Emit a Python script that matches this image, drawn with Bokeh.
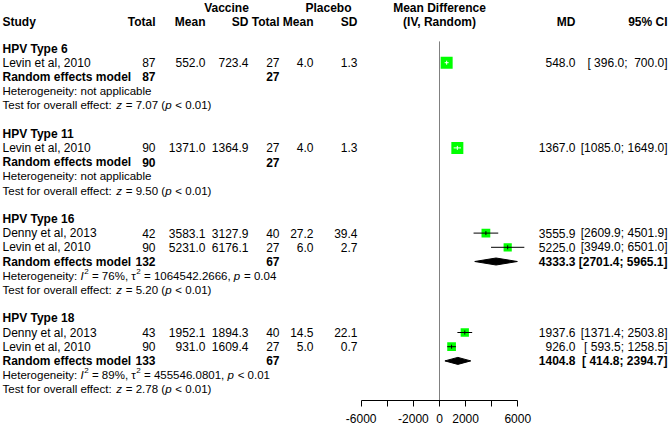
import math
from bokeh.plotting import figure
from bokeh.models import Range1d, FixedTicker, ColumnDataSource
from bokeh.core.properties import value
from bokeh.embed import file_html
from bokeh.resources import INLINE

# ---------------- data ----------------
groups = ["HPV Type 6", "HPV Type 11", "HPV Type 16", "HPV Type 18"]
study_group = [0, 1, 2, 2, 3, 3]
study_names = ["Levin et al, 2010", "Levin et al, 2010", "Denny et al, 2013",
               "Levin et al, 2010", "Denny et al, 2013", "Levin et al, 2010"]
vac_total = [87, 90, 42, 90, 43, 90]
vac_mean = [552.0, 1371.0, 3583.1, 5231.0, 1952.1, 931.0]
vac_sd = [723.4, 1364.9, 3127.9, 6176.1, 1894.3, 1609.4]
pla_total = [27, 27, 40, 27, 40, 27]
pla_mean = [4.0, 4.0, 27.2, 6.0, 14.5, 5.0]
pla_sd = [1.3, 1.3, 39.4, 2.7, 22.1, 0.7]
md = [548.0, 1367.0, 3555.9, 5225.0, 1937.6, 926.0]
md_lower = [396.0, 1085.0, 2609.9, 3949.0, 1371.4, 593.5]
md_upper = [700.0, 1649.0, 4501.9, 6501.0, 2503.8, 1258.5]
weight = [100.0, 100.0, 53.4, 46.6, 47.3, 52.7]

re_vac_total = [87, 90, 132, 133]
re_pla_total = [27, 27, 67, 67]
re_md = [None, None, 4333.3, 1404.8]
re_lower = [None, None, 2701.4, 414.8]
re_upper = [None, None, 5965.1, 2394.7]
het_i2 = [None, None, "76%", "89%"]
het_tau2 = [None, None, "1064542.2666", "455546.0801"]
het_p = [None, None, "= 0.04", "< 0.01"]
test_z = ["7.07", "9.50", "5.20", "2.78"]
test_p = ["< 0.01", "< 0.01", "< 0.01", "< 0.01"]
ref_value = 0
tick_values = [-6000, -4000, -2000, 0, 2000, 4000, 6000]
tick_labels = ["-6000", "", "-2000", "0", "2000", "", "6000"]

# ---------------- layout ----------------
FONT = "Liberation Sans"
FS = 12.0
FS_BOLD = 12.0
FS_SMALL = 11.5
W = 669
FRAME_H = 400
O_LEFT, O_RIGHT = 0.0, 669.0
SX = W / (O_RIGHT - O_LEFT)
AX_L, AX_R = 360.7, 517.3              # where -6000 / 6000 sit
ROW0, ROWH, AXIS_Y = 48.0, 14.2, 400.0
X_TEXT = 2.0
C_VT, C_VM, C_VS, C_PT, C_PM, C_PS, C_MD, C_CI = 155, 205, 248, 279, 313, 357, 575, 667
C_MID = (AX_L + AX_R) / 2

u = (tick_values[-1] - tick_values[0]) / (AX_R - AX_L)
x_start = tick_values[0] - (AX_L - O_LEFT) * u
x_end = tick_values[-1] + (O_RIGHT - AX_R) * u
y_bottom = (AXIS_Y - ROW0) / ROWH
y_top = (0 - ROW0) / ROWH
row_px = FRAME_H / (y_bottom - y_top)
unit_px = W / (x_end - x_start)

p = figure(frame_width=W, frame_height=FRAME_H,
           x_range=Range1d(x_start, x_end), y_range=Range1d(y_bottom, y_top),
           output_backend="svg", toolbar_location=None,
           x_axis_location="below", y_axis_location=None, min_border=0)
p.extra_x_ranges = {"orig": Range1d(O_LEFT, O_RIGHT)}
p.outline_line_color = None
p.xgrid.visible = False
p.ygrid.visible = False
p.background_fill_color = "white"
p.border_fill_color = "white"

ax = p.xaxis[0]
ax.ticker = FixedTicker(ticks=tick_values)
ax.major_label_overrides = {v: s for v, s in zip(tick_values, tick_labels)}
ax.bounds = (tick_values[0], tick_values[-1])
ax.minor_tick_line_color = None
ax.major_tick_in = 0
ax.major_tick_out = 6
ax.major_label_standoff = 7
ax.axis_line_color = "black"
ax.major_tick_line_color = "black"
ax.major_label_text_font = FONT
ax.major_label_text_font_size = f"{FS}px"
ax.major_label_text_color = "black"

# rows
rows_group, rows_study, rows_re, rows_het, rows_test = [], [], [], [], []
r = 0
for gi in range(len(groups)):
    rows_group.append(r); r += 1
    for si, g in enumerate(study_group):
        if g == gi:
            rows_study.append(r); r += 1
    rows_re.append(r); r += 1
    rows_het.append(r); r += 1
    rows_test.append(r); r += 1
    r += 1
hdr1 = (7 - ROW0) / ROWH
hdr2 = (21 - ROW0) / ROWH


def put(xs, ys, texts, align="left", style="normal", size=None, rng="orig"):
    if size is None:
        size = FS_BOLD if style == "bold" else FS
    src = ColumnDataSource(dict(x=list(xs), y=list(ys), t=list(texts)))
    kw = dict(x_range_name=rng) if rng else {}
    p.text(x="x", y="y", text="t", source=src, text_align=value(align),
           text_baseline=value("middle"), text_font=value(FONT),
           text_font_style=value(style), text_font_size=value(f"{size}px"),
           text_color=value("black"), **kw)


NB = "\u00a0"
f1 = lambda v: f"{v:.1f}"


def ci(lo, hi, los, his):
    w1 = max(len(f1(v)) for v in los)
    w2 = max(len(f1(v)) for v in his)
    return "[" + f1(lo).rjust(w1).replace(" ", NB) + ";" + NB + f1(hi).rjust(w2).replace(" ", NB) + "]"


# headers
put([226, 328, C_MID], [hdr1] * 3, ["Vaccine", "Placebo", "Mean Difference"], "center", "bold")
put([X_TEXT], [hdr2], ["Study"], "left", "bold")
put([C_VT, C_VM, C_VS, C_PT, C_PM, C_PS, C_MD, C_CI], [hdr2] * 8,
    ["Total", "Mean", "SD", "Total", "Mean", "SD", "MD", "95% CI"], "right", "bold")
put([C_MID], [hdr2], ["(IV, Random)"], "center", "bold")

# group labels and RE rows
put([X_TEXT] * len(groups), rows_group, groups, "left", "bold")
put([X_TEXT] * len(groups), rows_re, ["Random effects model"] * len(groups), "left", "bold")
put([C_VT] * 4, rows_re, [str(v) for v in re_vac_total], "right", "bold")
put([C_PT] * 4, rows_re, [str(v) for v in re_pla_total], "right", "bold")
re_idx = [i for i in range(len(groups)) if re_md[i] is not None]
re_lo_all = [re_lower[i] for i in re_idx]
re_hi_all = [re_upper[i] for i in re_idx]
put([C_MD] * len(re_idx), [rows_re[i] for i in re_idx], [f1(re_md[i]) for i in re_idx], "right", "bold")
put([C_CI] * len(re_idx), [rows_re[i] for i in re_idx],
    [ci(re_lower[i], re_upper[i], re_lo_all, re_hi_all) for i in re_idx], "right", "bold")

# study rows
n = len(study_names)
put([X_TEXT] * n, rows_study, study_names)
put([C_VT] * n, rows_study, [str(v) for v in vac_total], "right")
put([C_VM] * n, rows_study, [f1(v) for v in vac_mean], "right")
put([C_VS] * n, rows_study, [f1(v) for v in vac_sd], "right")
put([C_PT] * n, rows_study, [str(v) for v in pla_total], "right")
put([C_PM] * n, rows_study, [f1(v) for v in pla_mean], "right")
put([C_PS] * n, rows_study, [f1(v) for v in pla_sd], "right")
put([C_MD] * n, rows_study, [f1(v) for v in md], "right")
put([C_CI] * n, rows_study, [ci(md_lower[i], md_upper[i], md_lower, md_upper) for i in range(n)], "right")

# heterogeneity / test lines with mixed styles
AW = {' ': 278, '%': 889, '(': 333, ')': 333, ',': 278, '-': 333, '.': 278, ':': 278,
      ';': 278, '<': 584, '=': 584, '[': 278, ']': 278, '\u03c4': 440}
for c in "0123456789":
    AW[c] = 556
for c, w in zip("abcdefghijklmnopqrstuvwxyz",
                [556, 556, 500, 556, 556, 278, 556, 556, 222, 222, 500, 222, 833, 556, 556, 556,
                 556, 333, 500, 278, 556, 500, 722, 500, 500, 500]):
    AW[c] = w
for c, w in zip("ABCDEFGHIJKLMNOPQRSTUVWXYZ",
                [667, 667, 722, 722, 667, 611, 778, 722, 278, 500, 667, 556, 833, 722, 778, 667,
                 778, 722, 667, 611, 722, 667, 944, 667, 667, 611]):
    AW[c] = w


def tw(s, size):
    return sum(AW.get(c, 556) for c in s) * size / 1000.0 / SX


segs = {}


def add_line(parts, row):
    x = X_TEXT
    for text, style, sup in parts:
        size = FS_SMALL * 0.7 if sup else FS_SMALL
        y = row - (0.3 if sup else 0.0)
        lead = len(text) - len(text.lstrip(" "))
        stripped = text.strip(" ")
        if stripped:
            key = (style, size, sup)
            segs.setdefault(key, ([], [], []))
            segs[key][0].append(x + tw(text[:lead], size))
            segs[key][1].append(y)
            segs[key][2].append(stripped)
        x += tw(text, size) + (0.6 if style == "italic" else 0)


for gi in range(len(groups)):
    if het_i2[gi] is None:
        add_line([("Heterogeneity: not applicable", "normal", False)], rows_het[gi])
    else:
        add_line([("Heterogeneity: ", "normal", False), ("I", "italic", False), ("2", "normal", True),
                  (f" = {het_i2[gi]}, ", "normal", False), ("\u03c4", "normal", False),
                  ("2", "normal", True), (f" = {het_tau2[gi]}, ", "normal", False),
                  ("p", "italic", False), (f" {het_p[gi]}", "normal", False)], rows_het[gi])
    add_line([("Test for overall effect: ", "normal", False), ("z", "italic", False),
              (f" = {test_z[gi]} (", "normal", False), ("p", "italic", False),
              (f" {test_p[gi]})", "normal", False)], rows_test[gi])

for (style, size, sup), (xs, ys, ts) in segs.items():
    put(xs, ys, ts, "left", style, round(size, 2))

# ---------------- graphics ----------------
p.segment(x0=[ref_value], x1=[ref_value], y0=[-0.5], y1=[y_bottom], line_color="#808080", line_width=1)

sizes = [12.0 * math.sqrt(w / 100.0) for w in weight]
inside = []
for i in range(n):
    half = (sizes[i] / 2 - 1.0) / unit_px
    inside.append(md_lower[i] > md[i] - half and md_upper[i] < md[i] + half)
in_col = ["white" if f else "black" for f in inside]

p.scatter(x=md, y=rows_study, size=sizes, marker="square", fill_color="#00ff00", line_color=None)
p.segment(x0=md_lower, x1=md_upper, y0=rows_study, y1=rows_study, line_color=in_col, line_width=1)
tick_h = 2.0 / row_px
p.segment(x0=md, x1=md, y0=[r_ - tick_h for r_ in rows_study], y1=[r_ + tick_h for r_ in rows_study],
          line_color=in_col, line_width=1)

dh = 3.5 / row_px
xs_d, ys_d = [], []
for i in re_idx:
    rr = rows_re[i]
    xs_d.append([re_lower[i], re_md[i], re_upper[i], re_md[i]])
    ys_d.append([rr, rr - dh, rr, rr + dh])
p.patches(xs=xs_d, ys=ys_d, fill_color="black", line_color="black", line_width=1)

open("out.html", "w").write(file_html(p, INLINE))
